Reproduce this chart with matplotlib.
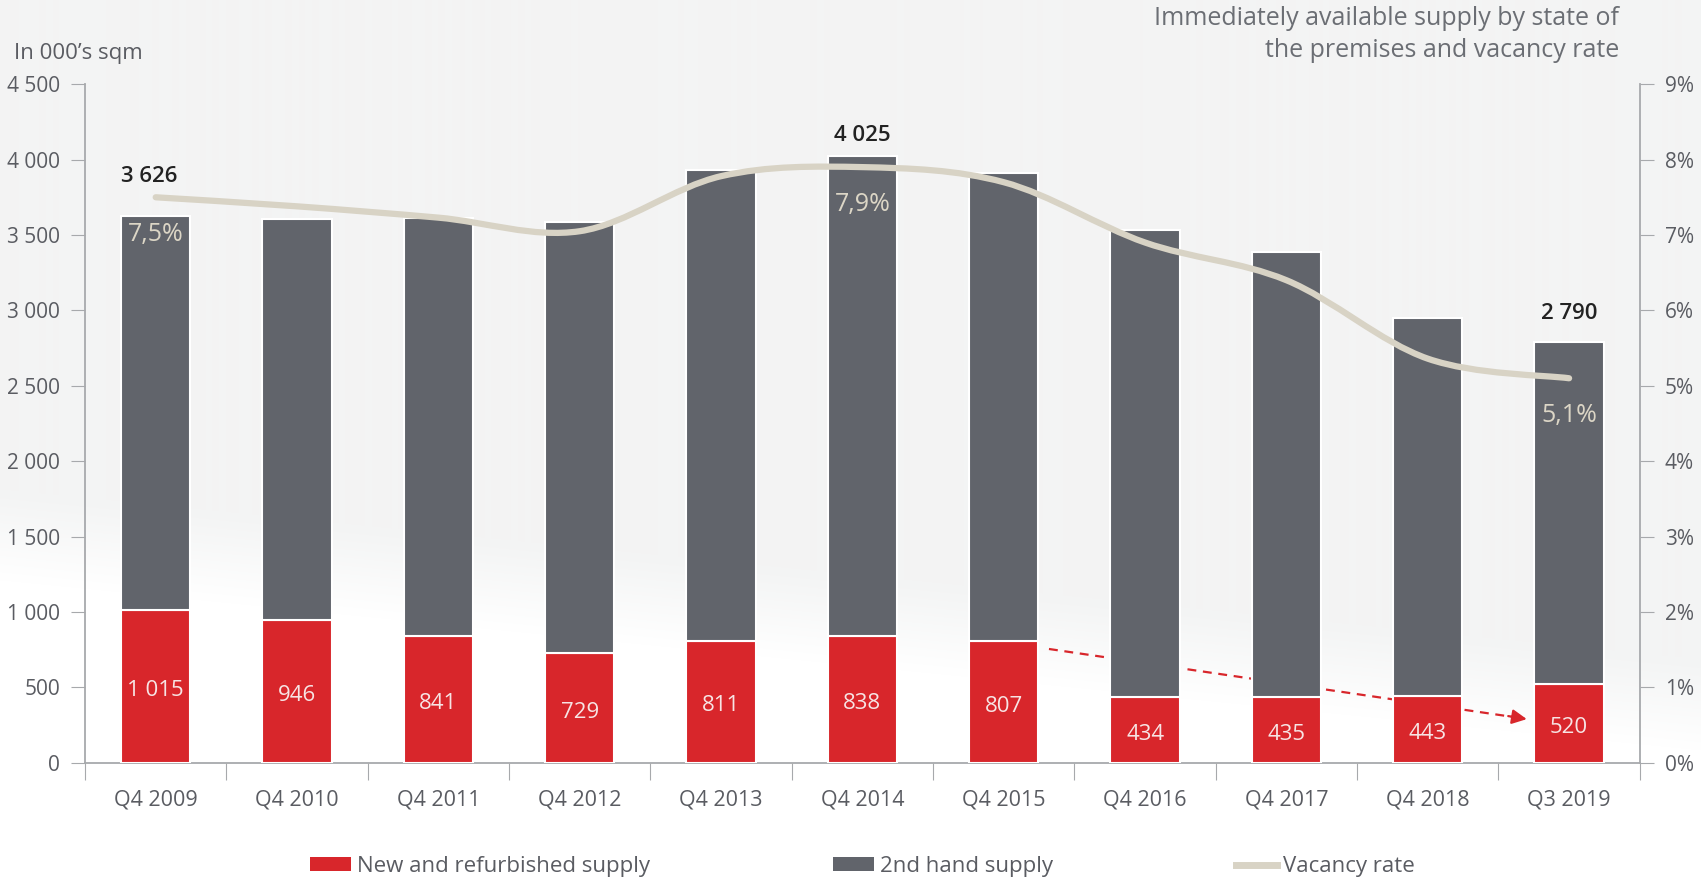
import matplotlib
matplotlib.use("Agg")
import matplotlib.pyplot as plt
import numpy as np
from matplotlib.path import Path
from matplotlib.patches import PathPatch, Patch
from matplotlib.lines import Line2D

plt.rcParams['font.family'] = ['Open Sans', 'DejaVu Sans']

# data
categories = ['Q4 2009', 'Q4 2010', 'Q4 2011', 'Q4 2012', 'Q4 2013', 'Q4 2014',
              'Q4 2015', 'Q4 2016', 'Q4 2017', 'Q4 2018', 'Q3 2019']
new_supply = [1015, 946, 841, 729, 811, 838, 807, 434, 435, 443, 520]
total_supply = [3626, 3605, 3612, 3585, 3930, 4025, 3908, 3535, 3390, 2950, 2790]
vacancy = [7.5, 7.38, 7.23, 7.05, 7.78, 7.9, 7.7, 6.9, 6.4, 5.36, 5.1]
total_labels = {0: '3 626', 5: '4 025', 10: '2 790'}
vacancy_labels = {0: '7,5%', 5: '7,9%', 10: '5,1%'}
left_ticks = [0, 500, 1000, 1500, 2000, 2500, 3000, 3500, 4000, 4500]
right_ticks = list(range(0, 10))

second_hand = [t - n for t, n in zip(total_supply, new_supply)]

RED = '#d8262b'
GREY = '#61646b'
BEIGE = '#d8d3c5'
TXT = '#5a5c62'
AXC = '#a7a9ac'

fig = plt.figure(figsize=(17.01, 8.86), dpi=100)
fig.patch.set_facecolor('white')

# background: light grey top fading into white lower part
bg = fig.add_axes([0, 0, 1, 1], zorder=-10)
H, W = 886, 1701
yy, xx = np.mgrid[0:H, 0:W]
boundary = 490 + 170 * xx / W
t = np.clip((yy - boundary) / 90.0, 0, 1)
top = np.array([243, 244, 244]) / 255.0
img = top[None, None, :] * (1 - t[..., None]) + 1.0 * t[..., None]
bg.imshow(img, extent=[0, 1, 0, 1], aspect='auto', origin='upper')
bg.axis('off')

ax = fig.add_axes([0.05, 0.139, 0.914, 0.766])
ax.patch.set_alpha(0)
x = np.arange(len(categories))

ax.bar(x, new_supply, width=0.49, color=RED, edgecolor='white', linewidth=1.5, zorder=3)
ax.bar(x, second_hand, bottom=new_supply, width=0.49, color=GREY, edgecolor='white',
       linewidth=1.5, zorder=3)

for i, v in enumerate(new_supply):
    ax.annotate(f'{v:,}'.replace(',', ' '), (i, v / 2), xytext=(0, -3),
                textcoords='offset points', ha='center', va='center',
                color='#f7e4e4', fontsize=16, zorder=4)

offs = {0: 21, 5: 7, 10: 13}
for i, lab in total_labels.items():
    ax.annotate(lab, (i, total_supply[i]), xytext=(-5 if i == 0 else 0, offs[i]),
                textcoords='offset points', ha='center', va='bottom',
                fontsize=16, color='#222222', fontweight='semibold', zorder=5)

# dashed red trend arrow behind the bars
ax.plot([6.32, 9.62], [755, 302], ls=(0, (4, 3)), color=RED, lw=1.6, zorder=2)
ax.annotate('', xy=(9.72, 287), xytext=(9.55, 313),
            arrowprops=dict(arrowstyle='-|>', color=RED, lw=1.6, mutation_scale=22),
            zorder=2)

ax.set_xlim(-0.5, 10.5)
ax.set_ylim(0, 4500)
ax.set_yticks(left_ticks)
ax.set_yticklabels([f'{v:,}'.replace(',', ' ') for v in left_ticks])
ax.set_xticks(np.arange(-0.5, 11, 1))
ax.set_xticklabels([])
ax.set_xticks(x, minor=True)
ax.set_xticklabels(categories, minor=True)
ax.tick_params(axis='x', which='major', length=12, color=AXC, direction='out')
ax.tick_params(axis='x', which='minor', length=0, pad=19, labelsize=15.5, labelcolor=TXT)
ax.tick_params(axis='y', length=10, color=AXC, labelsize=15, labelcolor=TXT, pad=8)
for s in ['top', 'right']:
    ax.spines[s].set_visible(False)
for s in ['left', 'bottom']:
    ax.spines[s].set_color(AXC)
    ax.spines[s].set_linewidth(1.3)

ax2 = ax.twinx()
ax2.set_ylim(0, 9)
ax2.set_yticks(right_ticks)
ax2.set_yticklabels([f'{v}%' for v in right_ticks])
ax2.tick_params(axis='y', length=10, color=AXC, labelsize=15, labelcolor=TXT, pad=8)
for s in ['top', 'left', 'bottom']:
    ax2.spines[s].set_visible(False)
ax2.spines['right'].set_color(AXC)
ax2.spines['right'].set_linewidth(1.3)

# smoothed vacancy line (Catmull-Rom as cubic Bezier)
pts = np.column_stack([x, vacancy]).astype(float)
verts = [pts[0]]
codes = [Path.MOVETO]
n = len(pts)
for i in range(n - 1):
    p0 = pts[max(i - 1, 0)]
    p1 = pts[i]
    p2 = pts[i + 1]
    p3 = pts[min(i + 2, n - 1)]
    c1 = p1 + (p2 - p0) / 6.0
    c2 = p2 - (p3 - p1) / 6.0
    verts += [c1, c2, p2]
    codes += [Path.CURVE4] * 3
ax2.add_patch(PathPatch(Path(verts, codes), fill=False, edgecolor=BEIGE, lw=4.5,
                        capstyle='round', zorder=6))

for i, lab in vacancy_labels.items():
    ax2.annotate(lab, (i, vacancy[i]), xytext=(0, -18), textcoords='offset points',
                 ha='center', va='top', fontsize=18, color='#dcd6c6', zorder=7)

fig.text(0.008, 0.940, 'In 000\u2019s sqm', fontsize=16, color=TXT, ha='left', va='center')
fig.text(0.952, 0.993, 'Immediately available supply by state of\nthe premises and vacancy rate',
         fontsize=18, color='#6b6e74', ha='right', va='top', linespacing=1.35)

handles = [Patch(facecolor=RED, edgecolor='none'),
           Patch(facecolor=GREY, edgecolor='none'),
           Line2D([0], [0], color=BEIGE, lw=5)]
fig.legend(handles, ['New and refurbished supply', '2nd hand supply', 'Vacancy rate'],
           loc='center', bbox_to_anchor=(0.507, 0.022), ncol=3, frameon=False,
           fontsize=16, labelcolor=TXT, handlelength=1.85, handleheight=0.6,
           handletextpad=0.3, columnspacing=8.2)

fig.savefig('out.png', dpi=100)
